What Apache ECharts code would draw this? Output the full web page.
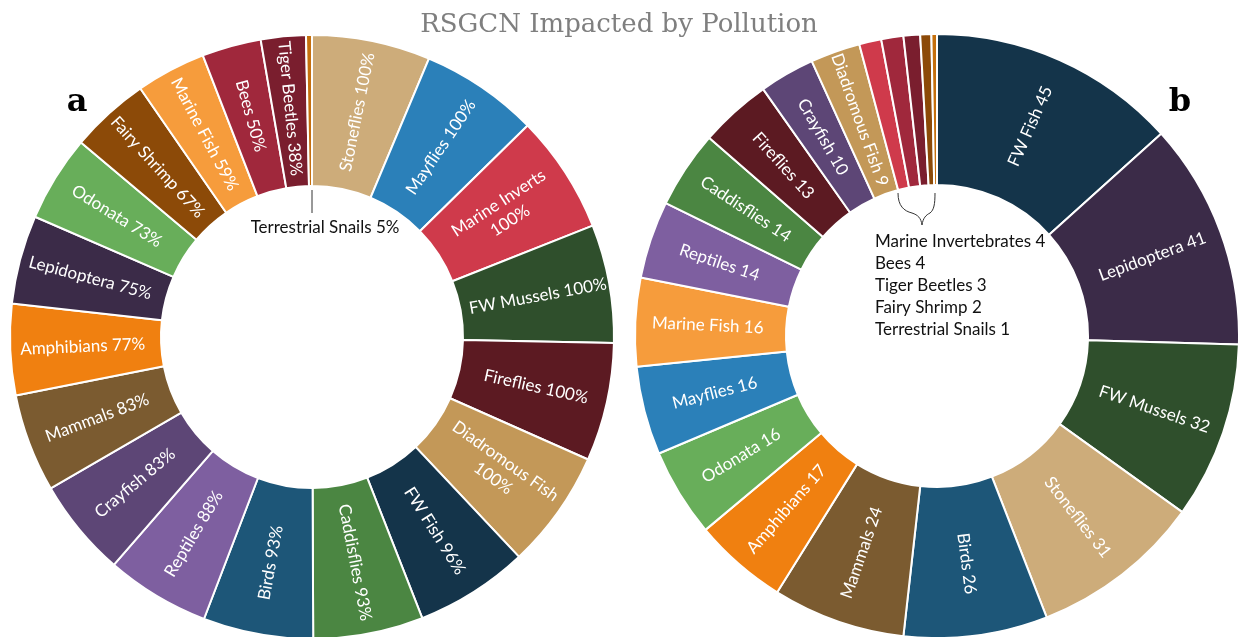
<!DOCTYPE html>
<html>
<head>
<meta charset="utf-8">
<style>
  html, body { margin: 0; padding: 0; background: #ffffff; }
  #chart { width: 1238px; height: 637px; }
</style>
<script src="https://cdn.jsdelivr.net/npm/echarts@6/dist/echarts.min.js"></script>
</head>
<body>
<div id="chart"></div>
<script>
// Share of each RSGCN group impacted by pollution (percent)
const groupsA = ['Stoneflies', 'Mayflies', 'Marine Inverts', 'FW Mussels', 'Fireflies',
  'Diadromous Fish', 'FW Fish', 'Caddisflies', 'Birds', 'Reptiles', 'Crayfish', 'Mammals',
  'Amphibians', 'Lepidoptera', 'Odonata', 'Fairy Shrimp', 'Marine Fish', 'Bees',
  'Tiger Beetles', 'Terrestrial Snails'];
const percentA = [100, 100, 100, 100, 100, 100, 96, 93, 93, 88, 83, 83, 77, 75, 73, 67, 59, 50, 38, 5];

// Number of RSGCN species impacted by pollution
const groupsB = ['FW Fish', 'Lepidoptera', 'FW Mussels', 'Stoneflies', 'Birds', 'Mammals',
  'Amphibians', 'Odonata', 'Mayflies', 'Marine Fish', 'Reptiles', 'Caddisflies', 'Fireflies',
  'Crayfish', 'Diadromous Fish', 'Marine Invertebrates', 'Bees', 'Tiger Beetles',
  'Fairy Shrimp', 'Terrestrial Snails'];
const countB = [45, 41, 32, 31, 26, 24, 17, 16, 16, 16, 14, 14, 13, 10, 9, 4, 4, 3, 2, 1];

// Slices whose labels are written in the hole instead of on the slice
const calloutA = ['Terrestrial Snails'];
const calloutB = ['Marine Invertebrates', 'Bees', 'Tiger Beetles', 'Fairy Shrimp', 'Terrestrial Snails'];

// Names that wrap onto two lines inside their slice
const wrapped = ['Marine Inverts', 'Diadromous Fish'];

const groupColor = {
  'Stoneflies': '#cdac7a',
  'Mayflies': '#2b80b9',
  'Marine Inverts': '#cf3a4b',
  'Marine Invertebrates': '#cf3a4b',
  'FW Mussels': '#2f4f2c',
  'Fireflies': '#5c1a22',
  'Diadromous Fish': '#c39858',
  'FW Fish': '#14344a',
  'Caddisflies': '#4b8642',
  'Birds': '#1d5678',
  'Reptiles': '#7e5fa0',
  'Crayfish': '#5d4676',
  'Mammals': '#7b5b30',
  'Amphibians': '#f08010',
  'Lepidoptera': '#3b2b48',
  'Odonata': '#68ae5a',
  'Fairy Shrimp': '#8c4a08',
  'Marine Fish': '#f69c3c',
  'Bees': '#a0283c',
  'Tiger Beetles': '#7a1e2e',
  'Terrestrial Snails': '#c5700e'
};

const labelFont = 'Lato, "Noto Sans", sans-serif';

function buildData(names, values, hidden) {
  return names.map((n, i) => ({
    name: n,
    value: values[i],
    itemStyle: { color: groupColor[n] },
    label: { show: hidden.indexOf(n) < 0 }
  }));
}

function ringSeries(center, data, fmt) {
  return {
    type: 'pie',
    center: center,
    radius: [151, 302],
    startAngle: 90,
    clockwise: true,
    avoidLabelOverlap: false,
    animation: false,
    silent: true,
    itemStyle: { borderColor: '#ffffff', borderWidth: 2 },
    label: {
      show: true,
      position: 'inside',
      rotate: 'radial',
      color: '#ffffff',
      fontFamily: labelFont,
      fontSize: 17,
      lineHeight: 21,
      align: 'center',
      formatter: fmt
    },
    labelLine: { show: false },
    data: data
  };
}

const fmtA = p => p.name + (wrapped.indexOf(p.name) >= 0 ? '\n' : ' ') + p.value + '%';
const fmtB = p => p.name + ' ' + p.value;

const calloutTextA = calloutA.map(n => n + ' ' + percentA[groupsA.indexOf(n)] + '%').join('\n');
const calloutTextB = calloutB.map(n => n + ' ' + countB[groupsB.indexOf(n)]).join('\n');

// curly brace drawn as four cubic segments
const braceStroke = { stroke: '#333', lineWidth: 1, fill: null };
function braceSeg(x1, y1, cx1, cy1, cx2, cy2, x2, y2) {
  return { type: 'bezierCurve',
    shape: { x1: x1, y1: y1, cpx1: cx1, cpy1: cy1, cpx2: cx2, cpy2: cy2, x2: x2, y2: y2 },
    style: braceStroke };
}

const chart = echarts.init(document.getElementById('chart'), null, { renderer: 'canvas' });
chart.setOption({
  backgroundColor: '#ffffff',
  title: {
    text: 'RSGCN Impacted by Pollution',
    left: 'center',
    top: 7,
    textStyle: {
      fontFamily: '"DejaVu Serif", Georgia, serif',
      fontWeight: 'normal',
      fontSize: 26,
      color: '#7f7f7f'
    }
  },
  series: [
    ringSeries([312, 337], buildData(groupsA, percentA, calloutA), fmtA),
    ringSeries([937, 336], buildData(groupsB, countB, calloutB), fmtB)
  ],
  graphic: [
    { type: 'text', x: 77, y: 103,
      style: { text: 'a', font: 'bold 32px "DejaVu Serif", serif', fill: '#000',
               textAlign: 'center', textVerticalAlign: 'middle' } },
    { type: 'text', x: 1180, y: 103,
      style: { text: 'b', font: 'bold 32px "DejaVu Serif", serif', fill: '#000',
               textAlign: 'center', textVerticalAlign: 'middle' } },
    // leader from the thin snail slice down to its note
    { type: 'line', shape: { x1: 312, y1: 190, x2: 312, y2: 213 },
      style: { stroke: '#333', lineWidth: 1 } },
    { type: 'text', x: 325, y: 228,
      style: { text: calloutTextA, font: '17px ' + labelFont, fill: '#111',
               textAlign: 'center', textVerticalAlign: 'middle' } },
    braceSeg(898, 193, 898, 206, 904, 211, 912, 213),
    braceSeg(912, 213, 918, 215, 921, 218, 922, 225),
    braceSeg(922, 225, 923, 218, 926, 215, 930, 213),
    braceSeg(930, 213, 934, 210, 935, 204, 935, 193),
    { type: 'text', x: 875, y: 231,
      style: { text: calloutTextB, font: '17px ' + labelFont, fill: '#111',
               lineHeight: 22, textAlign: 'left', textVerticalAlign: 'top' } }
  ]
});
</script>
</body>
</html>
